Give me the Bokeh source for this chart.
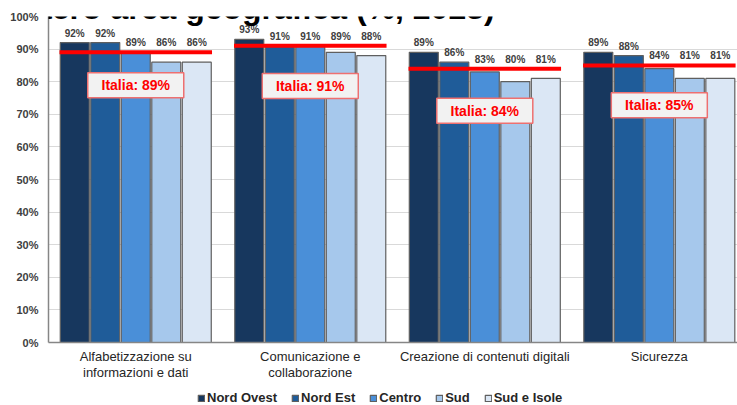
import numpy as np
from bokeh.plotting import figure
from bokeh.layouts import column
from bokeh.models import (Range1d, FixedTicker, Legend, LegendItem, Label,
                          PrintfTickFormatter)
from bokeh.core.properties import value
from bokeh.embed import file_html
from bokeh.resources import INLINE

# ---------------- data ----------------
categories = ["Alfabetizzazione su\ninformazioni e dati",
              "Comunicazione e\ncollaborazione",
              "Creazione di contenuti digitali",
              "Sicurezza"]
regions = ["Nord Ovest", "Nord Est", "Centro", "Sud", "Sud e Isole"]
nord_ovest = [92, 93, 89, 89]
nord_est = [92, 91, 86, 88]
centro = [89, 91, 83, 84]
sud = [86, 89, 80, 81]
sud_isole = [86, 88, 81, 81]
italia = [89, 91, 84, 85]
y_ticks = [0, 10, 20, 30, 40, 50, 60, 70, 80, 90, 100]
title_text = "macro area geografica (%, 2023)"

# ---------------- layout / style ----------------
series = [nord_ovest, nord_est, centro, sud, sud_isole]
colors = ["#17375e", "#1f5c99", "#4a8fd8", "#a6c8ec", "#dbe7f5"]
outline = "#5f5f5f"
italia_label_y = [78.9, 78.7, 71.1, 72.8]
FONT = value("Liberation Sans")
pitch = 0.1748
bar_w = 0.166

p = figure(width=737, height=383, x_range=Range1d(-0.5, 3.448),
           y_range=Range1d(0, 100), output_backend="svg",
           toolbar_location=None, min_border_left=48, min_border_right=0,
           min_border_top=16, min_border_bottom=40)
p.outline_line_color = None
p.background_fill_color = "white"
p.border_fill_color = "white"

xs = np.arange(len(categories))

for j, vals in enumerate(series):
    p.vbar(x=xs + (j - 2) * pitch, top=vals, width=bar_w, bottom=0,
           fill_color=colors[j], line_color=outline, line_width=1.2)

# Italia reference lines
p.segment(x0=xs - 2.5 * pitch, x1=xs + 2.5 * pitch, y0=italia, y1=italia,
          line_color="#ff0000", line_width=4)

# value labels
for j, vals in enumerate(series):
    ly = np.maximum(np.array(vals), np.array(italia))
    p.text(x=xs + (j - 2) * pitch, y=ly, text=[f"{v}%" for v in vals],
           text_align="center", text_baseline="bottom", y_offset=-4,
           text_font=FONT, text_font_style="bold", text_font_size="10px",
           text_color="#404040")

# Italia boxes
p.rect(x=xs, y=italia_label_y, width=96, height=25, width_units="screen",
       height_units="screen", fill_color="#f2f2f2", line_color="#ee7070",
       line_width=1.5)
p.text(x=xs, y=italia_label_y, text=[f"Italia: {v}%" for v in italia],
       text_align="center", text_baseline="middle", text_font=FONT,
       text_font_style="bold", text_font_size="14px", text_color="#ff0000")

# axes
p.xgrid.grid_line_color = None
p.ygrid.grid_line_color = "#d9d9d9"
p.ygrid.ticker = FixedTicker(ticks=y_ticks)

p.yaxis.ticker = FixedTicker(ticks=y_ticks)
p.yaxis.formatter = PrintfTickFormatter(format="%d%%")
p.yaxis.major_tick_out = 0
p.yaxis.major_tick_in = 0
p.yaxis.minor_tick_out = 0
p.yaxis.minor_tick_in = 0
p.yaxis.axis_line_color = "#868686"
p.yaxis.axis_line_width = 1.5
p.yaxis.major_label_standoff = 10
p.yaxis.major_label_text_font = "Liberation Sans"
p.yaxis.major_label_text_font_style = "bold"
p.yaxis.major_label_text_font_size = "11px"
p.yaxis.major_label_text_color = "#404040"

p.xaxis.ticker = FixedTicker(ticks=list(xs))
p.xaxis.major_label_overrides = {int(i): c for i, c in zip(xs, categories)}
p.xaxis.major_tick_out = 0
p.xaxis.major_tick_in = 0
p.xaxis.minor_tick_out = 0
p.xaxis.minor_tick_in = 0
p.xaxis.axis_line_color = "#868686"
p.xaxis.axis_line_width = 1.5
p.xaxis.major_label_standoff = 6
p.xaxis.major_label_text_font = "Liberation Sans"
p.xaxis.major_label_text_font_size = "13px"
p.xaxis.major_label_text_line_height = 1.1
p.xaxis.major_label_text_color = "#262626"

# (cropped) title
p.add_layout(Label(x=-43, y=335, x_units="screen", y_units="screen",
                   text=title_text, text_font="Liberation Sans",
                   text_font_style="bold", text_font_size="32px",
                   text_color="black", text_baseline="alphabetic"))

# legend strip
lg = figure(width=737, height=22, output_backend="svg", toolbar_location=None,
            x_axis_type=None, y_axis_type=None, min_border=0,
            x_range=Range1d(0, 1), y_range=Range1d(0, 1))
lg.outline_line_color = None
lg.grid.grid_line_color = None
nan = float("nan")
keys = [lg.vbar(x=[nan], top=[nan], width=0.1, fill_color=c,
                line_color=outline, line_width=1.2) for c in colors]
legend = Legend(items=[LegendItem(label=r_, renderers=[k])
                       for r_, k in zip(regions, keys)],
                location=(149, 0), orientation="horizontal",
                glyph_width=8, glyph_height=8, label_height=14,
                label_standoff=2, spacing=14, padding=0, margin=0,
                label_text_font="Liberation Sans",
                label_text_font_style="bold", label_text_font_size="13px",
                label_text_color="#262626", border_line_color=None,
                background_fill_alpha=0)
lg.add_layout(legend, "center")

layout = column(p, lg, spacing=0)
open("out.html", "w").write(file_html(layout, INLINE))
